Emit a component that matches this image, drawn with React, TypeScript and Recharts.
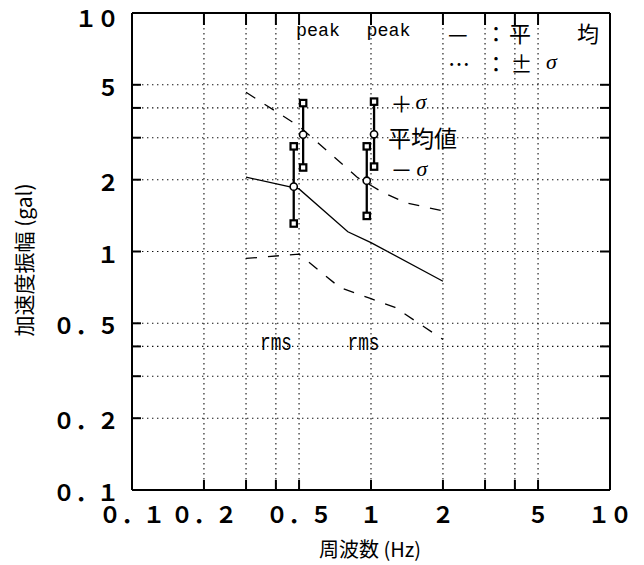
import React from 'react';
import { ComposedChart, Line, XAxis, YAxis, CartesianGrid } from 'recharts';

// 平均 (rms)
const meanFreq = [0.3, 0.5, 0.8, 1.0, 2.0];
const meanAmp = [2.05, 1.83, 1.21, 1.09, 0.75];
// +σ
const upperFreq = [0.3, 0.5, 0.88, 1.12, 1.4, 2.0];
const upperAmp = [4.65, 3.35, 2.04, 1.77, 1.6, 1.48];
// -σ
const lowerFreq = [0.3, 0.5, 0.74, 1.0, 1.26, 2.0];
const lowerAmp = [0.935, 0.975, 0.707, 0.634, 0.583, 0.428];

// measured bars: rms / peak at 0.5 and 1 Hz
const rmsFreq = [0.475, 0.96];
const rmsPlus = [2.76, 2.76];
const rmsMean = [1.87, 1.98];
const rmsMinus = [1.31, 1.41];
const peakFreq = [0.52, 1.03];
const peakPlus = [4.19, 4.25];
const peakMean = [3.09, 3.1];
const peakMinus = [2.25, 2.27];

const axisTicks = [0.1, 0.2, 0.3, 0.4, 0.5, 1, 2, 3, 4, 5, 10];
const labelValues = [0.1, 0.2, 0.5, 1, 2, 5, 10];
const labelTexts = ['０．１', '０．２', '０．５', '１', '２', '５', '１０'];

const W = 636;
const H = 557;
const CJK = "'Noto Sans CJK JP', sans-serif";
const MONO = "'Liberation Mono', monospace";
const SERIF = "'Liberation Serif', serif";

const toPoints = (fs: number[], vs: number[]) => fs.map((f, i) => ({ f, v: vs[i] }));

const barPoints = (f: number, plus: number, mid: number, minus: number) => [
  { f, v: plus },
  { f, v: mid, mid: true },
  { f, v: minus },
];

const labelFor = (v: number) => {
  const i = labelValues.indexOf(v);
  return i >= 0 ? labelTexts[i] : null;
};
const isEdge = (v: number) => v === 0.1 || v === 10;

const tickText = { fontFamily: CJK, fontSize: 22, fontWeight: 700, fill: '#000' };

const BottomTick = (props: any) => {
  const { x, y, payload } = props;
  const lab = labelFor(payload.value);
  return (
    <g>
      {!isEdge(payload.value) && <line x1={x} x2={x} y1={y} y2={y - 10} stroke="#000" strokeWidth={2} />}
      {lab && (
        <text x={x} y={y + 23} textAnchor="middle" dominantBaseline="central" {...tickText}>
          {lab}
        </text>
      )}
    </g>
  );
};

const LeftTick = (props: any) => {
  const { x, y, payload } = props;
  const lab = labelFor(payload.value);
  // keep the top label inside the drawing
  const ty = payload.value === 10 ? y + 4 : y + 1;
  return (
    <g>
      {!isEdge(payload.value) && <line x1={x} x2={x + 9} y1={y} y2={y} stroke="#000" strokeWidth={2} />}
      {lab && (
        <text x={x - 13} y={ty} textAnchor="end" dominantBaseline="central" {...tickText}>
          {lab}
        </text>
      )}
    </g>
  );
};

const TopTick = (props: any) => {
  const { x, y, payload } = props;
  if (isEdge(payload.value)) return <g />;
  return <line x1={x} x2={x} y1={y} y2={y + 12} stroke="#000" strokeWidth={2} />;
};

const RightTick = (props: any) => {
  const { x, y, payload } = props;
  if (isEdge(payload.value)) return <g />;
  return <line x1={x} x2={x - 10} y1={y} y2={y} stroke="#000" strokeWidth={2} />;
};

const BarDot = (props: any) => {
  const { cx, cy, payload, index } = props;
  if (payload.mid) {
    return <circle key={index} cx={cx} cy={cy} r={3.6} fill="#fff" stroke="#000" strokeWidth={1.6} />;
  }
  return (
    <rect key={index} x={cx - 3.2} y={cy - 3.2} width={6.4} height={6.4} fill="#fff" stroke="#000" strokeWidth={2.2} />
  );
};

const axisLine = { stroke: '#000', strokeWidth: 2 };

export default function App() {
  const bars = [
    ...rmsFreq.map((f, i) => barPoints(f, rmsPlus[i], rmsMean[i], rmsMinus[i])),
    ...peakFreq.map((f, i) => barPoints(f, peakPlus[i], peakMean[i], peakMinus[i])),
  ];

  return (
    <div style={{ position: 'relative', width: W, height: H }}>
      <style>{'svg { overflow: visible; }'}</style>
      <ComposedChart width={W} height={H} margin={{ top: 3, right: 32, bottom: 45, left: 64 }}>
        <CartesianGrid stroke="#111" strokeWidth={1.1} strokeDasharray="1.4 3.6" />
        <XAxis
          dataKey="f"
          type="number"
          scale="log"
          domain={[0.1, 10]}
          allowDataOverflow
          ticks={axisTicks}
          interval={0}
          height={30}
          tickSize={0}
          tickMargin={0}
          tickLine={false}
          axisLine={axisLine}
          tick={BottomTick}
        />
        <XAxis
          xAxisId="top"
          orientation="top"
          dataKey="f"
          type="number"
          scale="log"
          domain={[0.1, 10]}
          allowDataOverflow
          ticks={axisTicks}
          interval={0}
          height={2}
          tickSize={0}
          tickMargin={0}
          tickLine={false}
          axisLine={axisLine}
          tick={TopTick}
        />
        <YAxis
          type="number"
          scale="log"
          domain={[0.1, 10]}
          allowDataOverflow
          ticks={axisTicks}
          interval={0}
          width={60}
          tickSize={0}
          tickMargin={0}
          tickLine={false}
          axisLine={axisLine}
          tick={LeftTick}
        />
        <YAxis
          yAxisId="right"
          orientation="right"
          type="number"
          scale="log"
          domain={[0.1, 10]}
          allowDataOverflow
          ticks={axisTicks}
          interval={0}
          width={2}
          tickSize={0}
          tickMargin={0}
          tickLine={false}
          axisLine={axisLine}
          tick={RightTick}
        />
        <Line
          data={toPoints(upperFreq, upperAmp)}
          dataKey="v"
          type="linear"
          stroke="#000"
          strokeWidth={1.3}
          strokeDasharray="11 11"
          dot={false}
          isAnimationActive={false}
        />
        <Line
          data={toPoints(lowerFreq, lowerAmp)}
          dataKey="v"
          type="linear"
          stroke="#000"
          strokeWidth={1.3}
          strokeDasharray="11 11"
          dot={false}
          isAnimationActive={false}
        />
        <Line
          data={toPoints(meanFreq, meanAmp)}
          dataKey="v"
          type="linear"
          stroke="#000"
          strokeWidth={1.3}
          dot={false}
          isAnimationActive={false}
        />
        {bars.map((pts, i) => (
          <Line
            key={i}
            data={pts}
            dataKey="v"
            type="linear"
            stroke="#000"
            strokeWidth={2.3}
            dot={BarDot}
            activeDot={false}
            isAnimationActive={false}
          />
        ))}
      </ComposedChart>

      <svg width={W} height={H} style={{ position: 'absolute', left: 0, top: 0, pointerEvents: 'none' }}>
        <g fill="#000">
          <text x={288} y={28} fontFamily={MONO} fontSize={18} textLength={44} lengthAdjust="spacingAndGlyphs">peak</text>
          <text x={358.5} y={28} fontFamily={MONO} fontSize={18} textLength={44} lengthAdjust="spacingAndGlyphs">peak</text>

          <g fontFamily={CJK} fontSize={22} dominantBaseline="central">
            <text x={440} y={23.7}>—</text>
            <text x={477} y={23.7}>：</text>
            <text x={501} y={23.7}>平</text>
            <text x={569} y={23.7}>均</text>
            <text x={440} y={53.7}>…</text>
            <text x={477} y={53.7}>：</text>
            <text x={513.5} y={53.7} textAnchor="middle">±</text>
            <text x={543.5} y={53.7} textAnchor="middle" fontFamily={SERIF} fontStyle="italic">σ</text>

            <text x={393.5} y={93.7} textAnchor="middle">＋</text>
            <text x={413} y={93.7} textAnchor="middle" fontFamily={SERIF} fontStyle="italic">σ</text>
            <text x={380} y={128.7} fontSize={23}>平均値</text>
            <text x={393.5} y={160} textAnchor="middle">－</text>
            <text x={414} y={160} textAnchor="middle" fontFamily={SERIF} fontStyle="italic">σ</text>
          </g>

          <text x={252} y={342} fontFamily={MONO} fontSize={24} textLength={32} lengthAdjust="spacingAndGlyphs">rms</text>
          <text x={339.5} y={342} fontFamily={MONO} fontSize={24} textLength={32} lengthAdjust="spacingAndGlyphs">rms</text>

          <text x={362} y={540} textAnchor="middle" dominantBaseline="central" fontFamily={CJK} fontSize={20}>
            周波数 (Hz)
          </text>
          <text
            x={15}
            y={252}
            transform="rotate(-90 15 252)"
            textAnchor="middle"
            dominantBaseline="central"
            fontFamily={CJK}
            fontSize={21}
          >
            加速度振幅 (gal)
          </text>
        </g>
      </svg>
    </div>
  );
}
